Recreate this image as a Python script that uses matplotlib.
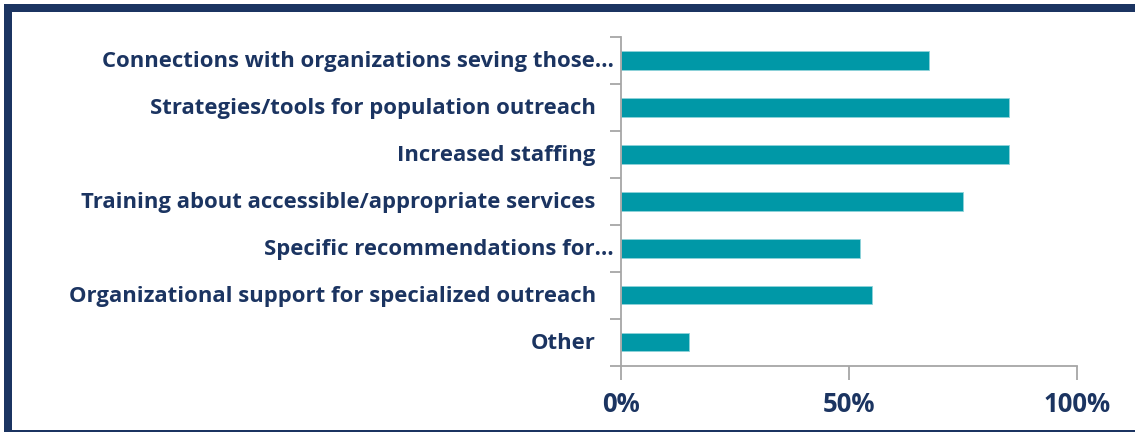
import matplotlib
matplotlib.use("Agg")
import matplotlib.pyplot as plt
from matplotlib.patches import Rectangle
from matplotlib.transforms import blended_transform_factory, offset_copy

categories = [
    "Connections with organizations seving those…",
    "Strategies/tools for population outreach",
    "Increased staffing",
    "Training about accessible/appropriate services",
    "Specific recommendations for…",
    "Organizational support for specialized outreach",
    "Other",
]
values = [67.5, 85.0, 85.0, 75.0, 52.5, 55.0, 15.0]
xticks = [0, 50, 100]
xtick_labels = ["0%", "50%", "100%"]

NAVY = "#1b3461"
TEAL = "#0098a7"
AXIS_GREY = "#a6a6a6"
FONT = "Open Sans"

W, H, DPI = 1135, 432, 100
fig = plt.figure(figsize=(W / DPI, H / DPI), dpi=DPI)
fig.patch.set_facecolor("white")

# plot area in pixel coordinates
x0, x1 = 620.7, 1077.3
y_top, y_bot = 37.0, 365.5
ax = fig.add_axes([x0 / W, 1 - y_bot / H, (x1 - x0) / W, (y_bot - y_top) / H])

n = len(categories)
pos = list(range(n))
ax.barh(pos, values, height=0.4, color=TEAL, edgecolor="#8fd3da", linewidth=0.6)
ax.set_xlim(0, 100)
ax.set_ylim(n - 0.5, -0.5)

for side in ("top", "right"):
    ax.spines[side].set_visible(False)
for side in ("left", "bottom"):
    ax.spines[side].set_color(AXIS_GREY)
    ax.spines[side].set_linewidth(1.3)

# category boundaries as outward ticks on the value axis
ax.set_yticks([p - 0.5 for p in pos] + [n - 0.5])
ax.set_yticklabels([])
ax.tick_params(axis="y", direction="out", length=8, width=1.3, color=AXIS_GREY)

ax.set_xticks(xticks)
ax.set_xticklabels(xtick_labels, fontsize=18.5, fontweight="bold", color=NAVY, family=FONT)
ax.tick_params(axis="x", direction="out", length=10, width=1.3, color=AXIS_GREY, pad=8)

# category labels, right-aligned against the axis
trans = blended_transform_factory(ax.transAxes, ax.transData)
texts = []
for p, name in zip(pos, categories):
    pad = -7 if name.endswith("…") else -25
    t = offset_copy(trans, fig=fig, x=pad, y=-1.5, units="dots")
    texts.append(ax.text(0, p, name, transform=t, ha="right", va="center",
                         fontsize=15, fontweight="bold", color=NAVY, family=FONT))

# size the labels so the longest full label spans about 515 px
renderer = fig.canvas.get_renderer()
ref = texts[3]
w = ref.get_window_extent(renderer).width
size = 15 * 515.0 / w
for t in texts:
    t.set_fontsize(size)

# navy panel frame
frame_kw = dict(transform=None, facecolor=NAVY, edgecolor="none", zorder=10)
fig.patches.append(Rectangle((4, H - 12), W - 4, 8, **frame_kw))
fig.patches.append(Rectangle((4, 0), 8, H - 4, **frame_kw))
fig.patches.append(Rectangle((4, 0), W - 4, 2, **frame_kw))

fig.savefig("out.png", dpi=DPI, facecolor="white")
